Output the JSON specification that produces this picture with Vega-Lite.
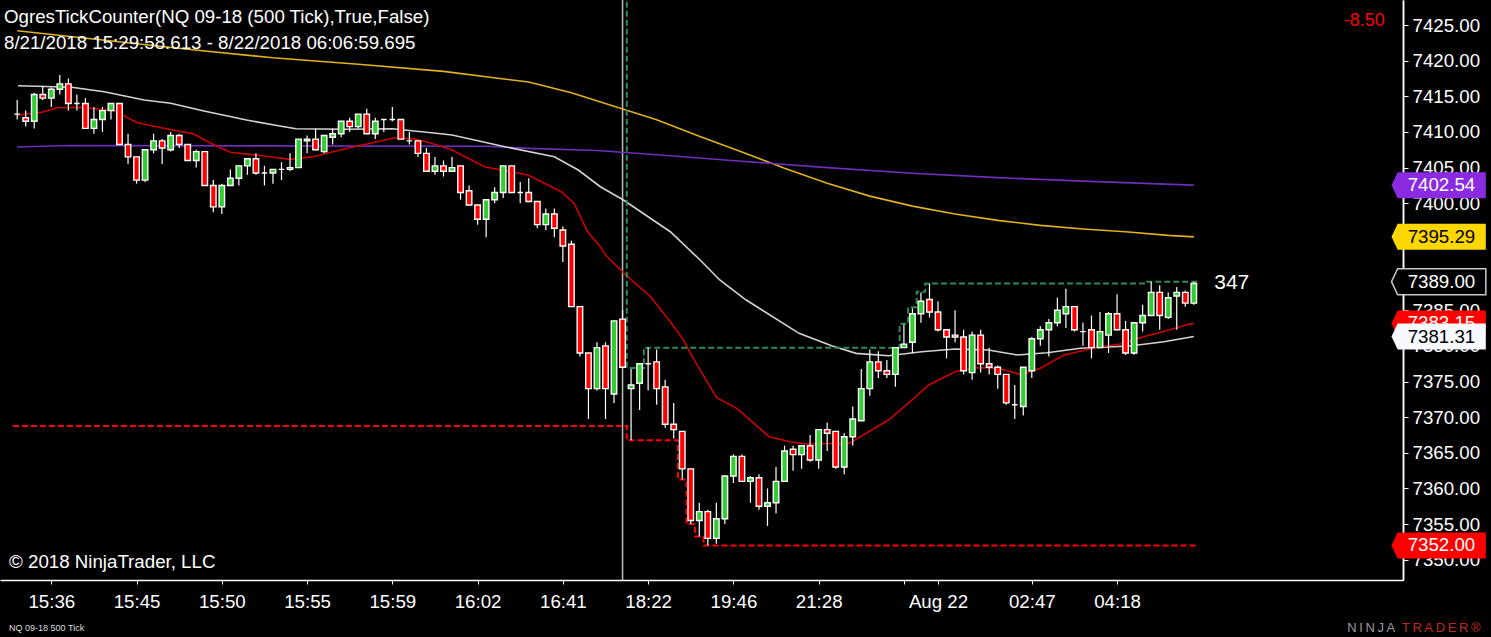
{
  "$schema": "https://vega.github.io/schema/vega-lite/v6.json",
  "description": "OgresTickCounter NQ 09-18 500 tick candlestick chart with moving averages",
  "width": 1403,
  "height": 580,
  "autosize": {"type": "none"},
  "padding": {"left": 0, "top": 0, "right": 88, "bottom": 57},
  "background": "#000000",
  "title": {
    "text": "OgresTickCounter(NQ 09-18 (500 Tick),True,False)",
    "subtitle": "8/21/2018 15:29:58.613 - 8/22/2018 06:06:59.695",
    "anchor": "start",
    "frame": "group",
    "orient": "top",
    "offset": -53,
    "dx": 4,
    "font": "Liberation Sans",
    "fontSize": 18.7,
    "fontWeight": "normal",
    "color": "#FFFFFF",
    "subtitleFont": "Liberation Sans",
    "subtitleFontSize": 18.7,
    "subtitleColor": "#FFFFFF",
    "subtitlePadding": 7
  },
  "datasets": {
    "candles": [
      {"i":0,"o":7412.5,"h":7414.5,"l":7411.75,"c":7412.5},
      {"i":1,"o":7412.0,"h":7413.0,"l":7410.75,"c":7411.5},
      {"i":2,"o":7411.5,"h":7415.5,"l":7410.5,"c":7415.25},
      {"i":3,"o":7415.25,"h":7416.5,"l":7414.5,"c":7414.75},
      {"i":4,"o":7414.75,"h":7416.25,"l":7413.5,"c":7416.0},
      {"i":5,"o":7416.0,"h":7418.0,"l":7415.25,"c":7416.75},
      {"i":6,"o":7416.75,"h":7417.5,"l":7413.0,"c":7414.0},
      {"i":7,"o":7414.0,"h":7415.25,"l":7413.0,"c":7414.0},
      {"i":8,"o":7414.0,"h":7414.75,"l":7410.5,"c":7410.5},
      {"i":9,"o":7410.5,"h":7413.5,"l":7409.75,"c":7411.75},
      {"i":10,"o":7411.75,"h":7413.5,"l":7410.0,"c":7413.0},
      {"i":11,"o":7413.0,"h":7414.0,"l":7411.75,"c":7414.0},
      {"i":12,"o":7414.0,"h":7414.0,"l":7408.25,"c":7408.25},
      {"i":13,"o":7408.25,"h":7409.75,"l":7405.5,"c":7406.5},
      {"i":14,"o":7406.5,"h":7406.5,"l":7402.75,"c":7403.25},
      {"i":15,"o":7403.25,"h":7407.5,"l":7403.0,"c":7407.5},
      {"i":16,"o":7407.5,"h":7409.75,"l":7407.0,"c":7408.75},
      {"i":17,"o":7408.75,"h":7409.0,"l":7405.5,"c":7407.75},
      {"i":18,"o":7407.5,"h":7410.0,"l":7407.25,"c":7409.5},
      {"i":19,"o":7409.5,"h":7409.75,"l":7407.75,"c":7408.25},
      {"i":20,"o":7408.25,"h":7408.25,"l":7406.0,"c":7406.0},
      {"i":21,"o":7406.0,"h":7407.5,"l":7405.0,"c":7407.25},
      {"i":22,"o":7407.25,"h":7407.25,"l":7402.5,"c":7402.5},
      {"i":23,"o":7402.5,"h":7403.25,"l":7398.75,"c":7399.5},
      {"i":24,"o":7399.5,"h":7402.75,"l":7398.5,"c":7402.5},
      {"i":25,"o":7402.5,"h":7404.75,"l":7402.5,"c":7403.5},
      {"i":26,"o":7403.5,"h":7405.25,"l":7402.5,"c":7405.25},
      {"i":27,"o":7405.25,"h":7406.25,"l":7404.0,"c":7406.25},
      {"i":28,"o":7406.25,"h":7407.0,"l":7404.0,"c":7404.25},
      {"i":29,"o":7404.25,"h":7405.25,"l":7402.5,"c":7404.25},
      {"i":30,"o":7404.25,"h":7404.75,"l":7402.75,"c":7404.75},
      {"i":31,"o":7404.75,"h":7405.75,"l":7403.25,"c":7404.75},
      {"i":32,"o":7404.75,"h":7407.0,"l":7404.5,"c":7405.0},
      {"i":33,"o":7405.0,"h":7409.0,"l":7405.0,"c":7409.0},
      {"i":34,"o":7408.75,"h":7409.5,"l":7407.0,"c":7409.0},
      {"i":35,"o":7409.0,"h":7410.5,"l":7407.5,"c":7407.5},
      {"i":36,"o":7407.25,"h":7409.5,"l":7407.0,"c":7409.5},
      {"i":37,"o":7409.25,"h":7410.5,"l":7408.25,"c":7409.75},
      {"i":38,"o":7409.75,"h":7411.5,"l":7409.25,"c":7411.5},
      {"i":39,"o":7411.5,"h":7412.0,"l":7410.0,"c":7410.75},
      {"i":40,"o":7410.75,"h":7412.5,"l":7410.5,"c":7412.5},
      {"i":41,"o":7412.5,"h":7413.25,"l":7409.75,"c":7409.75},
      {"i":42,"o":7409.75,"h":7412.0,"l":7409.0,"c":7411.5},
      {"i":43,"o":7411.75,"h":7411.75,"l":7410.0,"c":7411.75},
      {"i":44,"o":7411.75,"h":7413.5,"l":7411.5,"c":7411.75},
      {"i":45,"o":7411.75,"h":7411.75,"l":7409.0,"c":7409.0},
      {"i":46,"o":7408.75,"h":7410.0,"l":7408.25,"c":7408.75},
      {"i":47,"o":7408.75,"h":7408.75,"l":7406.5,"c":7407.0},
      {"i":48,"o":7407.0,"h":7407.75,"l":7404.5,"c":7404.5},
      {"i":49,"o":7404.5,"h":7406.5,"l":7404.0,"c":7405.25},
      {"i":50,"o":7405.25,"h":7406.0,"l":7403.75,"c":7404.5},
      {"i":51,"o":7404.5,"h":7406.5,"l":7404.5,"c":7405.0},
      {"i":52,"o":7405.25,"h":7405.25,"l":7400.5,"c":7401.5},
      {"i":53,"o":7401.75,"h":7402.5,"l":7399.75,"c":7399.75},
      {"i":54,"o":7399.75,"h":7399.75,"l":7397.0,"c":7397.75},
      {"i":55,"o":7397.75,"h":7400.5,"l":7395.25,"c":7400.5},
      {"i":56,"o":7400.5,"h":7402.25,"l":7400.0,"c":7401.5},
      {"i":57,"o":7401.5,"h":7405.25,"l":7400.75,"c":7405.25},
      {"i":58,"o":7405.25,"h":7405.25,"l":7401.5,"c":7401.5},
      {"i":59,"o":7401.5,"h":7403.0,"l":7400.0,"c":7401.5},
      {"i":60,"o":7401.5,"h":7403.5,"l":7400.25,"c":7400.25},
      {"i":61,"o":7400.25,"h":7400.25,"l":7396.5,"c":7397.0},
      {"i":62,"o":7397.0,"h":7399.25,"l":7396.25,"c":7398.5},
      {"i":63,"o":7398.5,"h":7399.25,"l":7395.25,"c":7396.5},
      {"i":64,"o":7396.25,"h":7396.75,"l":7391.75,"c":7394.0},
      {"i":65,"o":7394.25,"h":7394.75,"l":7385.5,"c":7385.5},
      {"i":66,"o":7385.5,"h":7385.5,"l":7378.5,"c":7379.0},
      {"i":67,"o":7379.0,"h":7379.0,"l":7369.75,"c":7374.0},
      {"i":68,"o":7374.0,"h":7380.5,"l":7373.75,"c":7379.75},
      {"i":69,"o":7380.0,"h":7380.5,"l":7369.75,"c":7374.0},
      {"i":70,"o":7373.25,"h":7383.5,"l":7372.0,"c":7383.5},
      {"i":71,"o":7383.75,"h":7385.0,"l":7377.0,"c":7377.0},
      {"i":72,"o":7374.0,"h":7376.75,"l":7366.75,"c":7374.5},
      {"i":73,"o":7374.75,"h":7377.5,"l":7371.0,"c":7377.5},
      {"i":74,"o":7377.5,"h":7379.75,"l":7373.75,"c":7377.5},
      {"i":75,"o":7377.75,"h":7379.5,"l":7371.75,"c":7374.0},
      {"i":76,"o":7374.25,"h":7375.25,"l":7368.5,"c":7369.0},
      {"i":77,"o":7369.0,"h":7372.0,"l":7367.0,"c":7368.25},
      {"i":78,"o":7368.0,"h":7368.0,"l":7361.25,"c":7362.75},
      {"i":79,"o":7362.75,"h":7362.75,"l":7355.0,"c":7355.5},
      {"i":80,"o":7355.5,"h":7358.0,"l":7353.25,"c":7356.75},
      {"i":81,"o":7356.75,"h":7357.0,"l":7352.0,"c":7353.0},
      {"i":82,"o":7353.0,"h":7358.0,"l":7352.25,"c":7355.75},
      {"i":83,"o":7355.75,"h":7361.75,"l":7355.0,"c":7361.75},
      {"i":84,"o":7361.75,"h":7364.75,"l":7360.75,"c":7364.5},
      {"i":85,"o":7364.5,"h":7364.75,"l":7361.0,"c":7361.0},
      {"i":86,"o":7361.0,"h":7361.75,"l":7358.0,"c":7361.5},
      {"i":87,"o":7361.5,"h":7362.0,"l":7357.0,"c":7357.5},
      {"i":88,"o":7357.5,"h":7360.0,"l":7354.75,"c":7358.0},
      {"i":89,"o":7358.0,"h":7363.0,"l":7356.5,"c":7361.0},
      {"i":90,"o":7361.0,"h":7366.0,"l":7361.0,"c":7365.25},
      {"i":91,"o":7365.5,"h":7366.0,"l":7362.5,"c":7364.75},
      {"i":92,"o":7364.75,"h":7366.0,"l":7362.75,"c":7366.0},
      {"i":93,"o":7366.0,"h":7367.5,"l":7363.75,"c":7364.0},
      {"i":94,"o":7364.0,"h":7368.25,"l":7362.75,"c":7368.25},
      {"i":95,"o":7368.25,"h":7369.25,"l":7365.25,"c":7367.75},
      {"i":96,"o":7368.0,"h":7368.0,"l":7362.75,"c":7363.0},
      {"i":97,"o":7363.0,"h":7367.75,"l":7362.0,"c":7367.25},
      {"i":98,"o":7367.25,"h":7371.5,"l":7366.0,"c":7369.75},
      {"i":99,"o":7369.5,"h":7376.75,"l":7369.5,"c":7374.0},
      {"i":100,"o":7374.0,"h":7379.5,"l":7373.0,"c":7377.75},
      {"i":101,"o":7377.75,"h":7379.25,"l":7375.5,"c":7376.5},
      {"i":102,"o":7376.5,"h":7378.0,"l":7375.5,"c":7376.0},
      {"i":103,"o":7376.0,"h":7379.75,"l":7374.25,"c":7379.75},
      {"i":104,"o":7379.75,"h":7383.0,"l":7379.75,"c":7380.25},
      {"i":105,"o":7380.5,"h":7385.25,"l":7379.0,"c":7384.5},
      {"i":106,"o":7384.5,"h":7387.5,"l":7383.25,"c":7386.25},
      {"i":107,"o":7386.5,"h":7388.75,"l":7384.0,"c":7384.75},
      {"i":108,"o":7384.75,"h":7386.25,"l":7382.0,"c":7382.25},
      {"i":109,"o":7382.25,"h":7382.25,"l":7378.25,"c":7381.25},
      {"i":110,"o":7381.5,"h":7385.0,"l":7380.5,"c":7381.25},
      {"i":111,"o":7381.25,"h":7382.25,"l":7376.0,"c":7376.5},
      {"i":112,"o":7376.25,"h":7382.0,"l":7375.25,"c":7381.5},
      {"i":113,"o":7381.5,"h":7382.25,"l":7376.25,"c":7377.5},
      {"i":114,"o":7377.5,"h":7379.75,"l":7376.0,"c":7377.0},
      {"i":115,"o":7377.0,"h":7377.25,"l":7374.0,"c":7376.0},
      {"i":116,"o":7376.0,"h":7376.0,"l":7371.75,"c":7372.0},
      {"i":117,"o":7371.75,"h":7374.5,"l":7369.75,"c":7371.75},
      {"i":118,"o":7371.5,"h":7377.0,"l":7370.25,"c":7377.0},
      {"i":119,"o":7376.5,"h":7381.25,"l":7375.5,"c":7381.0},
      {"i":120,"o":7381.0,"h":7382.75,"l":7380.0,"c":7382.25},
      {"i":121,"o":7382.25,"h":7383.75,"l":7378.5,"c":7383.25},
      {"i":122,"o":7383.25,"h":7386.75,"l":7382.75,"c":7385.0},
      {"i":123,"o":7384.5,"h":7388.0,"l":7382.5,"c":7385.5},
      {"i":124,"o":7385.5,"h":7385.5,"l":7382.0,"c":7382.25},
      {"i":125,"o":7382.0,"h":7383.25,"l":7380.0,"c":7382.0},
      {"i":126,"o":7382.25,"h":7384.25,"l":7378.25,"c":7379.75},
      {"i":127,"o":7379.75,"h":7384.75,"l":7379.75,"c":7382.0},
      {"i":128,"o":7381.5,"h":7384.75,"l":7379.0,"c":7384.5},
      {"i":129,"o":7384.5,"h":7387.25,"l":7382.25,"c":7382.25},
      {"i":130,"o":7382.25,"h":7383.5,"l":7378.75,"c":7379.0},
      {"i":131,"o":7379.0,"h":7383.25,"l":7378.75,"c":7383.25},
      {"i":132,"o":7383.25,"h":7385.75,"l":7382.0,"c":7384.25},
      {"i":133,"o":7384.25,"h":7389.0,"l":7384.25,"c":7387.5},
      {"i":134,"o":7387.5,"h":7388.5,"l":7382.25,"c":7384.25},
      {"i":135,"o":7384.0,"h":7387.5,"l":7383.75,"c":7386.75},
      {"i":136,"o":7387.0,"h":7388.25,"l":7382.25,"c":7387.5},
      {"i":137,"o":7387.5,"h":7387.75,"l":7385.5,"c":7386.0},
      {"i":138,"o":7386.0,"h":7389.0,"l":7385.75,"c":7388.75}
    ],
    "averages": [
      {"ma":"MA1","i":0,"v":7424.2},{"ma":"MA1","i":10,"v":7422.9},{"ma":"MA1","i":20,"v":7421.6},
      {"ma":"MA1","i":30,"v":7420.4},{"ma":"MA1","i":40,"v":7419.5},{"ma":"MA1","i":50,"v":7418.5},
      {"ma":"MA1","i":60,"v":7417.0},{"ma":"MA1","i":65,"v":7415.5},{"ma":"MA1","i":70,"v":7413.6},
      {"ma":"MA1","i":75,"v":7411.7},{"ma":"MA1","i":80,"v":7409.4},{"ma":"MA1","i":85,"v":7407.2},
      {"ma":"MA1","i":90,"v":7404.9},{"ma":"MA1","i":95,"v":7402.8},{"ma":"MA1","i":100,"v":7401.0},
      {"ma":"MA1","i":105,"v":7399.6},{"ma":"MA1","i":110,"v":7398.5},{"ma":"MA1","i":115,"v":7397.6},
      {"ma":"MA1","i":120,"v":7396.9},{"ma":"MA1","i":125,"v":7396.4},{"ma":"MA1","i":130,"v":7396.0},
      {"ma":"MA1","i":135,"v":7395.5},{"ma":"MA1","i":138,"v":7395.29},
      {"ma":"MA2","i":0,"v":7407.9},{"ma":"MA2","i":6,"v":7408.1},{"ma":"MA2","i":55,"v":7408.0},
      {"ma":"MA2","i":60,"v":7407.7},{"ma":"MA2","i":68,"v":7407.4},{"ma":"MA2","i":75,"v":7406.8},
      {"ma":"MA2","i":85,"v":7405.9},{"ma":"MA2","i":95,"v":7405.0},{"ma":"MA2","i":105,"v":7404.2},
      {"ma":"MA2","i":115,"v":7403.6},{"ma":"MA2","i":125,"v":7403.1},{"ma":"MA2","i":138,"v":7402.54},
      {"ma":"MA3","i":0.1,"v":7416.49},{"ma":"MA3","i":6.4,"v":7416.27},{"ma":"MA3","i":10.2,"v":7415.65},
      {"ma":"MA3","i":14.9,"v":7414.48},{"ma":"MA3","i":18.0,"v":7414.02},{"ma":"MA3","i":21.9,"v":7412.94},
      {"ma":"MA3","i":26.9,"v":7411.68},{"ma":"MA3","i":30.8,"v":7410.84},{"ma":"MA3","i":32.7,"v":7410.46},
      {"ma":"MA3","i":38.5,"v":7410.38},{"ma":"MA3","i":44.0,"v":7410.46},{"ma":"MA3","i":48.6,"v":7409.9},
      {"ma":"MA3","i":51.0,"v":7409.57},{"ma":"MA3","i":56.8,"v":7408.03},{"ma":"MA3","i":63.0,"v":7406.53},
      {"ma":"MA3","i":65.8,"v":7404.66},{"ma":"MA3","i":68.4,"v":7402.32},{"ma":"MA3","i":71.1,"v":7400.46},
      {"ma":"MA3","i":76.6,"v":7396.01},{"ma":"MA3","i":80.1,"v":7392.04},{"ma":"MA3","i":82.4,"v":7389.24},
      {"ma":"MA3","i":85.5,"v":7386.43},{"ma":"MA3","i":91.7,"v":7381.76},{"ma":"MA3","i":95.6,"v":7379.98},
      {"ma":"MA3","i":98.4,"v":7378.95},{"ma":"MA3","i":102.2,"v":7378.62},{"ma":"MA3","i":106.1,"v":7379.18},
      {"ma":"MA3","i":110.0,"v":7379.56},{"ma":"MA3","i":113.9,"v":7379.42},{"ma":"MA3","i":117.3,"v":7378.72},
      {"ma":"MA3","i":120.8,"v":7379.04},{"ma":"MA3","i":124.7,"v":7379.66},{"ma":"MA3","i":130.5,"v":7379.98},
      {"ma":"MA3","i":134.5,"v":7380.58},{"ma":"MA3","i":138,"v":7381.31},
      {"ma":"MA4","i":0.1,"v":7412.38},{"ma":"MA4","i":2.9,"v":7412.76},{"ma":"MA4","i":4.7,"v":7413.4},
      {"ma":"MA4","i":7.5,"v":7413.46},{"ma":"MA4","i":11.4,"v":7412.98},{"ma":"MA4","i":14.1,"v":7411.3},
      {"ma":"MA4","i":17.2,"v":7410.51},{"ma":"MA4","i":20.7,"v":7409.71},{"ma":"MA4","i":22.7,"v":7408.41},
      {"ma":"MA4","i":25.0,"v":7407.15},{"ma":"MA4","i":28.9,"v":7406.63},{"ma":"MA4","i":32.0,"v":7406.16},
      {"ma":"MA4","i":34.7,"v":7406.53},{"ma":"MA4","i":38.5,"v":7407.65},{"ma":"MA4","i":41.7,"v":7408.49},
      {"ma":"MA4","i":44.3,"v":7409.19},{"ma":"MA4","i":46.7,"v":7409.01},{"ma":"MA4","i":48.6,"v":7408.41},
      {"ma":"MA4","i":51.0,"v":7407.47},{"ma":"MA4","i":54.8,"v":7405.13},{"ma":"MA4","i":59.9,"v":7403.96},
      {"ma":"MA4","i":63.8,"v":7401.62},{"ma":"MA4","i":65.3,"v":7400.0},{"ma":"MA4","i":66.9,"v":7396.01},
      {"ma":"MA4","i":68.4,"v":7393.91},{"ma":"MA4","i":69.0,"v":7392.74},{"ma":"MA4","i":71.6,"v":7389.7},
      {"ma":"MA4","i":74.3,"v":7386.89},{"ma":"MA4","i":76.6,"v":7383.39},{"ma":"MA4","i":78.1,"v":7380.92},
      {"ma":"MA4","i":79.3,"v":7378.25},{"ma":"MA4","i":82.0,"v":7372.78},{"ma":"MA4","i":84.4,"v":7371.24},
      {"ma":"MA4","i":88.2,"v":7367.26},{"ma":"MA4","i":90.6,"v":7366.56},{"ma":"MA4","i":92.5,"v":7366.23},
      {"ma":"MA4","i":97.6,"v":7366.33},{"ma":"MA4","i":100.2,"v":7368.2},{"ma":"MA4","i":102.2,"v":7369.6},
      {"ma":"MA4","i":105.4,"v":7372.87},{"ma":"MA4","i":106.9,"v":7374.51},{"ma":"MA4","i":110.0,"v":7376.37},
      {"ma":"MA4","i":112.3,"v":7376.94},{"ma":"MA4","i":115.0,"v":7376.85},{"ma":"MA4","i":117.7,"v":7376.01},
      {"ma":"MA4","i":120.0,"v":7376.85},{"ma":"MA4","i":122.8,"v":7378.72},{"ma":"MA4","i":126.7,"v":7379.8},
      {"ma":"MA4","i":129.4,"v":7380.26},{"ma":"MA4","i":132.1,"v":7381.28},{"ma":"MA4","i":134.8,"v":7382.13},
      {"ma":"MA4","i":137.1,"v":7382.93},{"ma":"MA4","i":138,"v":7383.15}
    ],
    "highs": [
      {"i":71.45,"v":7432.0},{"i":71.5,"v":7376.9},{"i":73.5,"v":7379.75},{"i":103.5,"v":7383.1},
      {"i":104.5,"v":7385.4},{"i":105.5,"v":7387.6},{"i":106.5,"v":7388.75},{"i":132.5,"v":7389.0},
      {"i":138.5,"v":7389.0}
    ],
    "lows": [
      {"i":-0.5,"v":7368.75},{"i":71.5,"v":7366.75},{"i":77.5,"v":7361.25},{"i":78.5,"v":7355.0},
      {"i":79.5,"v":7353.25},{"i":80.5,"v":7352.0},{"i":138.5,"v":7352.0}
    ],
    "session": [{"i": 71}],
    "tags": [
      {"tag":"MA2","v":7402.54},
      {"tag":"MA1","v":7395.29},
      {"tag":"high","v":7389.0},
      {"tag":"MA4","v":7383.15},
      {"tag":"MA3","v":7381.31},
      {"tag":"low","v":7352.0}
    ],
    "notes": [
      {"note": "347", "where": "count"},
      {"note": "-8.50", "where": "change"},
      {"note": "© 2018 NinjaTrader, LLC", "where": "copyright"},
      {"note": "NQ 09-18 500 Tick", "where": "instrument"},
      {"note": "N\u2009I\u2009N\u2009J\u2009A", "where": "logo1"},
      {"note": "T\u2009R\u2009A\u2009D\u2009E\u2009R\u2009®", "where": "logo2"}
    ]
  },
  "resolve": {"axis": {"y": "independent"}},
  "layer": [
    {
      "data": {"name": "session"},
      "mark": {"type": "rule", "color": "#BEBEBE", "strokeWidth": 1.5},
      "encoding": {
        "x": {"field": "i", "type": "quantitative"}
      }
    },
    {
      "data": {"name": "averages"},
      "mark": {"type": "line", "strokeWidth": 1.6, "clip": true},
      "encoding": {
        "x": {"field": "i", "type": "quantitative"},
        "y": {"field": "v", "type": "quantitative", "axis": null},
        "color": {
          "field": "ma",
          "type": "nominal",
          "scale": {"domain": ["MA1", "MA2", "MA3", "MA4"], "range": ["#E0B020", "#6F2DBD", "#D3D3D3", "#CC0000"]},
          "legend": null
        }
      }
    },
    {
      "data": {"name": "highs"},
      "mark": {"type": "line", "interpolate": "step-after", "color": "#2E8B57", "strokeWidth": 2, "strokeDash": [6, 3], "clip": true},
      "encoding": {
        "x": {"field": "i", "type": "quantitative"},
        "y": {"field": "v", "type": "quantitative", "axis": null}
      }
    },
    {
      "data": {"name": "lows"},
      "mark": {"type": "line", "interpolate": "step-after", "color": "#FF0000", "strokeWidth": 2, "strokeDash": [6, 3], "clip": true},
      "encoding": {
        "x": {"field": "i", "type": "quantitative"},
        "y": {"field": "v", "type": "quantitative", "axis": null}
      }
    },
    {
      "data": {"name": "candles"},
      "mark": {"type": "rule", "color": "#FFFFFF", "strokeWidth": 1.2},
      "encoding": {
        "x": {
          "field": "i",
          "type": "quantitative",
          "scale": {"domain": [-1.43, 161.95], "nice": false, "zero": false},
          "axis": {
            "orient": "bottom",
            "title": null,
            "values": [4, 14, 24, 34, 44, 54, 64, 74, 84, 94, 104, 108, 119, 129],
            "labelExpr": "['15:36','15:45','15:50','15:55','15:59','16:02','16:41','18:22','19:46','21:28','','Aug 22','02:47','04:18'][indexof([4,14,24,34,44,54,64,74,84,94,104,108,119,129], datum.value)]",
            "labelPadding": 8
          }
        },
        "y": {
          "field": "l",
          "type": "quantitative",
          "scale": {"domain": [7347.16, 7428.51], "nice": false, "zero": false},
          "axis": {
            "orient": "right",
            "title": null,
            "values": [7350, 7360, 7370, 7380, 7390, 7400, 7410, 7420],
            "format": ".2f",
            "tickSize": 5,
            "labelPadding": 4
          }
        },
        "y2": {"field": "h"}
      }
    },
    {
      "data": {"name": "candles"},
      "mark": {"type": "bar", "size": 5.5, "stroke": "#FFFFFF", "strokeWidth": 1.4},
      "encoding": {
        "x": {"field": "i", "type": "quantitative"},
        "y": {
          "field": "o",
          "type": "quantitative",
          "axis": {
            "orient": "right",
            "title": null,
            "values": [7355, 7365, 7375, 7385, 7395, 7405, 7415, 7425],
            "format": ".2f",
            "tickSize": 5,
            "labelPadding": 4
          }
        },
        "y2": {"field": "c"},
        "fill": {
          "condition": {"test": "datum.c >= datum.o", "value": "#32CD32"},
          "value": "#FF0000"
        }
      }
    },
    {
      "data": {"name": "tags"},
      "mark": {
        "type": "point",
        "shape": "M-1,0L-0.87,-0.276L1,-0.276L1,0.276L-0.87,0.276Z",
        "size": 8892,
        "filled": true,
        "opacity": 1,
        "strokeWidth": 1.5,
        "clip": false
      },
      "encoding": {
        "x": {"datum": 166.72, "type": "quantitative"},
        "y": {"field": "v", "type": "quantitative", "axis": null},
        "fill": {
          "condition": [
            {"test": "datum.tag === 'MA2'", "value": "#8A2BE2"},
            {"test": "datum.tag === 'MA1'", "value": "#FFD700"},
            {"test": "datum.tag === 'high'", "value": "#000000"},
            {"test": "datum.tag === 'MA3'", "value": "#F8F8FF"}
          ],
          "value": "#FF0000"
        },
        "stroke": {
          "condition": {"test": "datum.tag === 'high'", "value": "#C8C8C8"},
          "value": "transparent"
        }
      }
    },
    {
      "data": {"name": "tags"},
      "mark": {"type": "text", "align": "left", "baseline": "middle", "font": "Liberation Sans", "fontSize": 18.7, "clip": false},
      "encoding": {
        "x": {"datum": 163.08, "type": "quantitative"},
        "y": {"field": "v", "type": "quantitative", "axis": null},
        "text": {"field": "v", "type": "quantitative", "format": ".2f"},
        "fill": {
          "condition": {"test": "datum.tag === 'MA1' || datum.tag === 'MA3'", "value": "#000000"},
          "value": "#FFFFFF"
        }
      }
    },
    {
      "data": {"name": "notes"},
      "transform": [{"filter": "datum.where === 'count'"}],
      "mark": {"type": "text", "align": "left", "baseline": "middle", "font": "Liberation Sans", "fontSize": 21, "color": "#FFFFFF"},
      "encoding": {
        "x": {"datum": 140.4, "type": "quantitative"},
        "y": {"datum": 7388.8, "type": "quantitative", "axis": null},
        "text": {"field": "note"}
      }
    },
    {
      "data": {"name": "notes"},
      "transform": [{"filter": "datum.where === 'change'"}],
      "mark": {"type": "text", "align": "right", "baseline": "middle", "font": "Liberation Sans", "fontSize": 18, "color": "#FF0000"},
      "encoding": {
        "x": {"datum": 160.4, "type": "quantitative"},
        "y": {"datum": 7425.56, "type": "quantitative", "axis": null},
        "text": {"field": "note"}
      }
    },
    {
      "data": {"name": "notes"},
      "transform": [{"filter": "datum.where === 'copyright'"}],
      "mark": {"type": "text", "align": "left", "baseline": "middle", "font": "Liberation Sans", "fontSize": 18.7, "color": "#FFFFFF"},
      "encoding": {
        "x": {"datum": -0.95, "type": "quantitative"},
        "y": {"datum": 7349.7, "type": "quantitative", "axis": null},
        "text": {"field": "note"}
      }
    },
    {
      "data": {"name": "notes"},
      "transform": [{"filter": "datum.where === 'instrument'"}],
      "mark": {"type": "text", "align": "left", "baseline": "middle", "font": "Liberation Sans", "fontSize": 9, "color": "#DDDDDD", "clip": false},
      "encoding": {
        "x": {"datum": -0.95, "type": "quantitative"},
        "y": {"datum": 7340.4, "type": "quantitative", "axis": null},
        "text": {"field": "note"}
      }
    },
    {
      "data": {"name": "notes"},
      "transform": [{"filter": "datum.where === 'logo1'"}],
      "mark": {"type": "text", "align": "left", "baseline": "middle", "font": "Liberation Sans", "fontSize": 13, "color": "#9A9A9A", "clip": false},
      "encoding": {
        "x": {"datum": 156.0, "type": "quantitative"},
        "y": {"datum": 7340.4, "type": "quantitative", "axis": null},
        "text": {"field": "note"}
      }
    },
    {
      "data": {"name": "notes"},
      "transform": [{"filter": "datum.where === 'logo2'"}],
      "mark": {"type": "text", "align": "left", "baseline": "middle", "font": "Liberation Sans", "fontSize": 13, "color": "#C0281E", "clip": false},
      "encoding": {
        "x": {"datum": 162.4, "type": "quantitative"},
        "y": {"datum": 7340.4, "type": "quantitative", "axis": null},
        "text": {"field": "note"}
      }
    }
  ],
  "config": {
    "view": {"stroke": null},
    "axis": {
      "grid": false,
      "labelOverlap": false,
      "labelFlush": false,
      "tickColor": "#FFFFFF",
      "domainColor": "#FFFFFF",
      "domainWidth": 1.5,
      "labelColor": "#FFFFFF",
      "labelFont": "Liberation Sans",
      "labelFontSize": 18.7
    },
    "axisX": {"tickSize": 4},
    "axisY": {"tickSize": 5}
  }
}
